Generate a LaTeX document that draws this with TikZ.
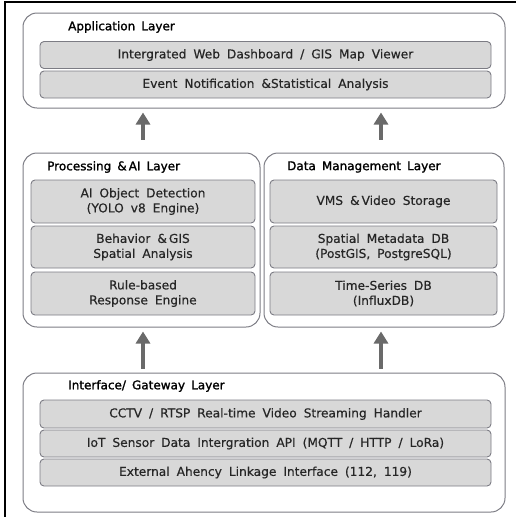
\documentclass[tikz,border=0pt]{standalone}
\usepackage{fontspec}
\setmainfont{DejaVu Sans}[WordSpace=1.8,FakeBold=0.4]
\newfontfamily\titlefont{DejaVu Sans}[WordSpace=1.6,FakeBold=1.4]
\usetikzlibrary{arrows.meta}
\definecolor{boxfill}{HTML}{D8D8D8}
\definecolor{boxline}{HTML}{7C7C84}
\definecolor{arrowcol}{HTML}{6A6A6A}
\newcommand{\amp}{\&\hspace{2pt}}
\tikzset{
  layer/.style={draw=boxline, line width=1pt, rounded corners=14pt, inner sep=0pt},
  item/.style={draw=boxline, fill=boxfill, line width=0.9pt, rounded corners=4pt, inner sep=0pt, align=center, text=black!85, font=\fontsize{12.2}{15}\selectfont},
  ltitle/.style={anchor=west, inner sep=0pt, font=\titlefont\fontsize{12}{14}\selectfont},
  uparrow/.style={draw=arrowcol, line width=4pt, -{Triangle[width=14pt,length=12pt]}}
}
\begin{document}
\begin{tikzpicture}[x=1pt,y=-1pt]
\useasboundingbox (0,0) rectangle (516,517);
\draw[line width=1.6pt] (5,517) -- (5,2) -- (516,2);
% layers
\node[layer, minimum width=482pt, minimum height=95pt] (app) at (264,60.5) {};
\node[layer, minimum width=237pt, minimum height=174pt] (proc) at (141.5,240) {};
\node[layer, minimum width=240pt, minimum height=174pt] (data) at (384,240) {};
\node[layer, minimum width=482pt, minimum height=139pt] (iface) at (264,442.5) {};
% titles
\node[ltitle] (tapp) at (68,27) {Application Layer};
\node[ltitle] (tproc) at (47,167) {Processing \amp AI Layer};
\node[ltitle] (tdata) at (287,167) {Data Management Layer};
\node[ltitle] (tiface) at (68,386) {Interface/ Gateway Layer};
% application items
\node[item, minimum width=451pt, minimum height=27pt] (a1) at (265.5,55) {Intergrated Web Dashboard / GIS Map Viewer};
\node[item, minimum width=451pt, minimum height=27pt] (a2) at (265.5,84.5) {Event Notification \&Statistical Analysis};
% processing items
\node[item, minimum width=224pt, minimum height=43pt] (p1) at (143,201.5) {AI Object Detection\\(YOLO v8 Engine)};
\node[item, minimum width=224pt, minimum height=42pt] (p2) at (143,247) {Behavior \amp GIS\\Spatial Analysis};
\node[item, minimum width=224pt, minimum height=43pt] (p3) at (143,293.5) {Rule-based\\Response Engine};
% data items
\node[item, minimum width=227pt, minimum height=43pt] (d1) at (383.5,201.5) {VMS \amp Video Storage};
\node[item, minimum width=227pt, minimum height=42pt] (d2) at (383.5,247) {Spatial Metadata DB\\(PostGIS, PostgreSQL)};
\node[item, minimum width=227pt, minimum height=43pt] (d3) at (383.5,293.5) {Time-Series DB\\(InfluxDB)};
% interface items
\node[item, minimum width=451pt, minimum height=28pt] (i1) at (265.5,414) {CCTV / RTSP Real-time Video Streaming Handler};
\node[item, minimum width=451pt, minimum height=27pt] (i2) at (265.5,443.5) {IoT Sensor Data Intergration API (MQTT / HTTP / LoRa)};
\node[item, minimum width=451pt, minimum height=27pt] (i3) at (265.5,472.5) {External Ahency Linkage Interface (112, 119)};
% arrows
\coordinate (xa) at (143,0);
\coordinate (xb) at (381,0);
\draw[uparrow, shorten <=13pt, shorten >=4pt] (proc.north -| xa) -- (app.south -| xa);
\draw[uparrow, shorten <=13pt, shorten >=4pt] (data.north -| xb) -- (app.south -| xb);
\draw[uparrow, shorten <=4pt, shorten >=4pt] (iface.north -| xa) -- (proc.south -| xa);
\draw[uparrow, shorten <=4pt, shorten >=4pt] (iface.north -| xb) -- (data.south -| xb);
\end{tikzpicture}
\end{document}
